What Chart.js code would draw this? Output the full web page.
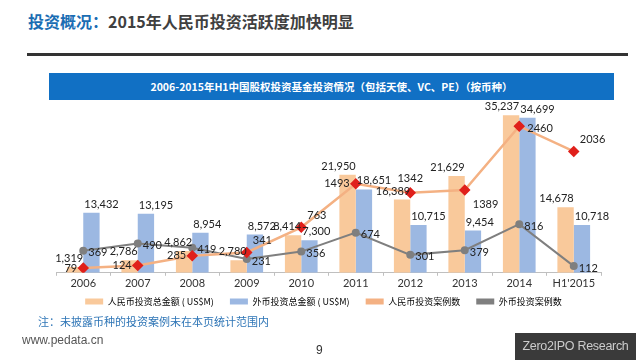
<!DOCTYPE html>
<html>
<head>
<meta charset="utf-8">
<script src="https://cdn.jsdelivr.net/npm/chart.js@4"></script>
<style>
  body { margin: 0; width: 640px; height: 360px; background: #fff; position: relative; overflow: hidden; font-family: "Noto Sans CJK SC", sans-serif; }
  .titulo { position: absolute; left: 28px; top: 9px; font-size: 16px; font-weight: bold; color: #404040; }
  .titulo span { color: #1a6db3; }
  .linha { position: absolute; left: 27px; top: 53px; width: 601px; height: 3px; background: #333; }
  .faixa { position: absolute; left: 49px; top: 73px; width: 565px; height: 27px; background: #1170c4; color: #fff; font-size: 10.5px; font-weight: bold; text-align: center; line-height: 27px; }
  .wrap { position: absolute; left: 0; top: 80px; width: 640px; height: 236px; }
  .nota { position: absolute; left: 38px; top: 313px; font-size: 11px; color: #2e75b6; }
  .site { position: absolute; left: 22px; top: 333px; font-size: 12px; color: #555; font-family: "Liberation Sans", sans-serif; }
  .pag { position: absolute; left: 316px; top: 343px; font-size: 12px; color: #333; font-family: "Liberation Sans", sans-serif; }
  .marca { position: absolute; left: 515px; top: 333px; width: 121px; height: 27px; background: #3a3a3a; color: #ccc; font-size: 12.5px; letter-spacing: -0.3px; line-height: 27px; text-align: center; font-family: "Liberation Sans", sans-serif; white-space: nowrap; }
</style>
</head>
<body>
<div class="titulo"><span>投资概况：</span>2015年人民币投资活跃度加快明显</div>
<div class="linha"></div>
<div class="faixa">2006-2015年H1中国股权投资基金投资情况（包括天使、VC、PE）（按币种）</div>
<div class="wrap"><canvas id="grafico"></canvas></div>
<div class="nota">注：未披露币种的投资案例未在本页统计范围内</div>
<div class="site">www.pedata.cn</div>
<div class="pag">9</div>
<div class="marca">Zero2IPO Research</div>
<script>
// dados
const anos = ['2006', '2007', '2008', '2009', '2010', '2011', '2012', '2013', '2014', "H1'2015"];
const valorRmb = [1319, 2786, 4862, 2780, 8414, 21950, 16389, 21629, 35237, 14678];
const valorExterior = [13432, 13195, 8954, 8572, 7300, 18651, 10715, 9454, 34699, 10718];
const casosRmb = [79, 124, 285, 341, 763, 1493, 1342, 1389, 2460, 2036];
const casosExterior = [369, 490, 419, 231, 356, 674, 301, 379, 816, 112];

// onde fica o rótulo de cada ponto da linha do RMB (l = esquerda, t = cima, tr, r, br)
const ladoRotuloRmb = ['l', 'l', 'l', 'tr', 'tr', 'l', 't', 'br', 'r', 'tr'];

// rótulos dos valores
const rotulos = {
  id: 'rotulos',
  afterDatasetsDraw(chart) {
    const ctx = chart.ctx;
    ctx.save();
    ctx.font = '11px Lato, sans-serif';
    ctx.fillStyle = '#222';
    chart.data.datasets.forEach((ds, i) => {
      const meta = chart.getDatasetMeta(i);
      meta.data.forEach((el, j) => {
        const v = ds.data[j];
        if (ds.type === 'bar') {
          const txt = v.toLocaleString('en-US');
          ctx.textBaseline = 'bottom';
          if (i === 0) {
            ctx.textAlign = 'right';
            ctx.fillText(txt, el.x + el.width / 2, el.y - 3);
          } else {
            ctx.textAlign = 'left';
            ctx.fillText(txt, el.x - el.width / 2 + 1, el.y - 3);
          }
        } else if (i === 2) {
          const lado = ladoRotuloRmb[j];
          ctx.textBaseline = 'middle';
          if (lado === 'l') {
            ctx.textAlign = 'right';
            ctx.fillText(String(v), el.x - 6, el.y);
          } else if (lado === 't') {
            ctx.textAlign = 'center';
            ctx.fillText(String(v), el.x, el.y - 14);
          } else if (lado === 'tr') {
            ctx.textAlign = 'left';
            ctx.fillText(String(v), el.x + 6, el.y - 12);
          } else if (lado === 'r') {
            ctx.textAlign = 'left';
            ctx.fillText(String(v), el.x + 8, el.y + 2);
          } else {
            ctx.textAlign = 'left';
            ctx.fillText(String(v), el.x + 8, el.y + 14);
          }
        } else {
          ctx.textAlign = 'left';
          ctx.textBaseline = 'middle';
          ctx.fillText(String(v), el.x + 5, el.y + 2);
        }
      });
    });
    ctx.restore();
  }
};

const ctx = document.getElementById('grafico').getContext('2d');
new Chart(ctx, {
  data: {
    labels: anos,
    datasets: [
      { type: 'bar', label: '人民币投资总金额 ( US$M)', data: valorRmb, backgroundColor: '#f9c99b', yAxisID: 'y', order: 3 },
      { type: 'bar', label: '外币投资总金额 ( US$M)', data: valorExterior, backgroundColor: '#9cb8e2', yAxisID: 'y', order: 4 },
      { type: 'line', label: '人民币投资案例数', data: casosRmb, borderColor: '#f4b183', backgroundColor: '#e0201b',
        borderWidth: 2.5, pointStyle: 'rectRot', pointRadius: 4, pointBackgroundColor: '#e0201b', pointBorderColor: '#e0201b', yAxisID: 'y1', order: 1 },
      { type: 'line', label: '外币投资案例数', data: casosExterior, borderColor: '#7f7f7f', backgroundColor: '#7f7f7f',
        borderWidth: 2, pointStyle: 'circle', pointRadius: 3, pointBackgroundColor: '#7f7f7f', pointBorderColor: '#7f7f7f', yAxisID: 'y1', order: 2 }
    ]
  },
  options: {
    responsive: true,
    maintainAspectRatio: false,
    animation: false,
    layout: { padding: { left: 56, right: 39, top: 14, bottom: 0 } },
    datasets: { bar: { categoryPercentage: 0.6, barPercentage: 1.0 } },
    plugins: {
      legend: {
        position: 'bottom',
        labels: {
          boxWidth: 18, boxHeight: 6, padding: 6, color: '#333',
          font: { size: 9, family: '"Noto Sans CJK SC", sans-serif' },
          generateLabels(chart) {
            return chart.data.datasets.map((ds, i) => ({
              text: ds.label + '     ',
              fillStyle: ds.type === 'bar' ? ds.backgroundColor : ds.borderColor,
              strokeStyle: ds.type === 'bar' ? ds.backgroundColor : ds.borderColor,
              lineWidth: 0,
              datasetIndex: i
            }));
          }
        }
      },
      tooltip: { enabled: false }
    },
    scales: {
      x: {
        offset: true,
        grid: { display: true, drawOnChartArea: false, offset: true, tickLength: 3, color: '#bfbfbf' },
        border: { color: '#bfbfbf' },
        ticks: { color: '#333', font: { size: 11, family: 'Lato, sans-serif' }, padding: 1 }
      },
      y: { display: false, min: 0, max: 40000 },
      y1: { display: false, min: 0, max: 3000 }
    }
  },
  plugins: [rotulos]
});
</script>
</body>
</html>
